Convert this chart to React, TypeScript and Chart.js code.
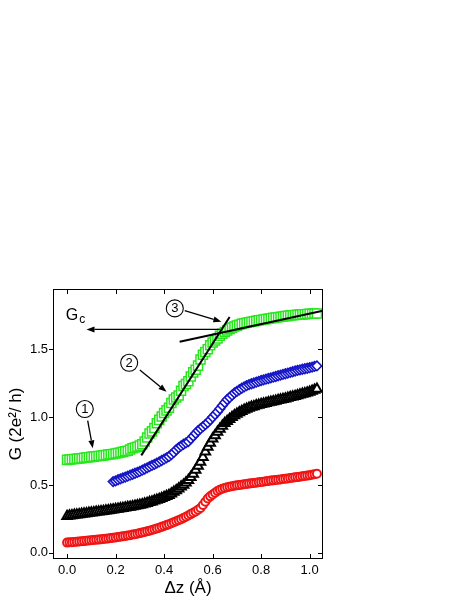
import React, { useEffect, useRef } from "react";
import { Chart, registerables } from "chart.js";

Chart.register(...registerables);

// Δz (Å) sample positions shared by the series
const dz = [
  0.0, 0.01, 0.02, 0.03, 0.04, 0.05, 0.06, 0.07, 0.08, 0.09,
  0.1, 0.11, 0.12, 0.13, 0.14, 0.15, 0.16, 0.17, 0.18, 0.19,
  0.2, 0.21, 0.22, 0.23, 0.24, 0.25, 0.26, 0.27, 0.28, 0.29,
  0.3, 0.31, 0.32, 0.33, 0.34, 0.35, 0.36, 0.37, 0.38, 0.39,
  0.4, 0.41, 0.42, 0.43, 0.44, 0.45, 0.46, 0.47, 0.48, 0.49,
  0.5, 0.51, 0.52, 0.53, 0.54, 0.55, 0.56, 0.57, 0.58, 0.59,
  0.6, 0.61, 0.62, 0.63, 0.64, 0.65, 0.66, 0.67, 0.68, 0.69,
  0.7, 0.71, 0.72, 0.73, 0.74, 0.75, 0.76, 0.77, 0.78, 0.79,
  0.8, 0.81, 0.82, 0.83, 0.84, 0.85, 0.86, 0.87, 0.88, 0.89,
  0.9, 0.91, 0.92, 0.93, 0.94, 0.95, 0.96, 0.97, 0.98, 0.99,
  1.0, 1.01, 1.02, 1.03,
];

const gGreen = [
  0.685, 0.687, 0.689, 0.691, 0.693, 0.695, 0.697, 0.700, 0.702, 0.705,
  0.707, 0.709, 0.711, 0.714, 0.716, 0.718, 0.721, 0.724, 0.726, 0.729,
  0.732, 0.736, 0.740, 0.744, 0.748, 0.752, 0.762, 0.770, 0.776, 0.782,
  0.790, 0.800, 0.820, 0.850, 0.880, 0.895, 0.920, 0.955, 0.980, 1.005,
  1.030, 1.050, 1.070, 1.105, 1.130, 1.145, 1.160, 1.195, 1.230, 1.245,
  1.265, 1.300, 1.330, 1.350, 1.380, 1.425, 1.460, 1.480, 1.500, 1.530,
  1.550, 1.565, 1.580, 1.600, 1.615, 1.628, 1.640, 1.650, 1.660, 1.668,
  1.675, 1.682, 1.688, 1.692, 1.696, 1.700, 1.704, 1.707, 1.710, 1.714,
  1.717, 1.720, 1.723, 1.726, 1.729, 1.732, 1.735, 1.737, 1.740, 1.742,
  1.745, 1.747, 1.749, 1.751, 1.753, 1.755, 1.756, 1.758, 1.759, 1.760,
  1.762, 1.763, 1.764, 1.765,
];

// blue starts at Δz = 0.19 (dz index 19)
const blueStart = 19;
const gBlue = [
  0.525,
  0.530, 0.538, 0.545, 0.552, 0.558, 0.565, 0.572, 0.579, 0.586, 0.593,
  0.600, 0.609, 0.618, 0.626, 0.635, 0.644, 0.652, 0.661, 0.670, 0.680,
  0.690, 0.700, 0.710, 0.725, 0.740, 0.760, 0.775, 0.788, 0.800, 0.810,
  0.820, 0.840, 0.860, 0.880, 0.900, 0.915, 0.930, 0.945, 0.960, 0.980,
  1.000, 1.020, 1.040, 1.062, 1.085, 1.108, 1.130, 1.145, 1.162, 1.178,
  1.190, 1.202, 1.213, 1.223, 1.232, 1.240, 1.246, 1.252, 1.258, 1.264,
  1.270, 1.275, 1.280, 1.285, 1.290, 1.295, 1.300, 1.305, 1.310, 1.315,
  1.320, 1.325, 1.330, 1.335, 1.340, 1.345, 1.349, 1.353, 1.357, 1.361,
  1.365, 1.369, 1.374, 1.378,
];

const gBlack = [
  0.270, 0.273, 0.275, 0.278, 0.280, 0.283, 0.285, 0.288, 0.290, 0.293,
  0.295, 0.297, 0.300, 0.302, 0.305, 0.307, 0.310, 0.312, 0.315, 0.317,
  0.320, 0.323, 0.326, 0.329, 0.332, 0.335, 0.338, 0.341, 0.345, 0.348,
  0.352, 0.356, 0.361, 0.366, 0.372, 0.377, 0.383, 0.389, 0.395, 0.402,
  0.409, 0.417, 0.425, 0.436, 0.448, 0.460, 0.472, 0.486, 0.500, 0.517,
  0.535, 0.557, 0.580, 0.610, 0.640, 0.670, 0.705, 0.745, 0.780, 0.810,
  0.840, 0.865, 0.890, 0.912, 0.935, 0.955, 0.970, 0.985, 1.000, 1.012,
  1.024, 1.035, 1.044, 1.052, 1.060, 1.068, 1.074, 1.079, 1.085, 1.090,
  1.095, 1.099, 1.103, 1.108, 1.112, 1.116, 1.120, 1.124, 1.128, 1.132,
  1.136, 1.141, 1.146, 1.150, 1.155, 1.160, 1.165, 1.170, 1.175, 1.180,
  1.185, 1.192, 1.200, 1.208,
];

const gRed = [
  0.075, 0.077, 0.078, 0.080, 0.081, 0.083, 0.085, 0.086, 0.088, 0.090,
  0.092, 0.094, 0.096, 0.097, 0.099, 0.101, 0.103, 0.106, 0.108, 0.111,
  0.113, 0.116, 0.118, 0.121, 0.124, 0.127, 0.130, 0.134, 0.137, 0.141,
  0.145, 0.149, 0.154, 0.158, 0.163, 0.168, 0.173, 0.179, 0.185, 0.191,
  0.197, 0.204, 0.211, 0.218, 0.225, 0.232, 0.240, 0.248, 0.257, 0.266,
  0.275, 0.285, 0.295, 0.305, 0.317, 0.330, 0.352, 0.376, 0.400, 0.416,
  0.430, 0.443, 0.455, 0.464, 0.472, 0.478, 0.483, 0.487, 0.491, 0.494,
  0.497, 0.500, 0.502, 0.505, 0.507, 0.510, 0.512, 0.515, 0.517, 0.520,
  0.522, 0.524, 0.527, 0.529, 0.532, 0.534, 0.536, 0.539, 0.541, 0.544,
  0.546, 0.548, 0.551, 0.553, 0.556, 0.558, 0.561, 0.564, 0.566, 0.569,
  0.572, 0.576, 0.579, 0.583,
];

const xTicks = [0.0, 0.2, 0.4, 0.6, 0.8, 1.0];
const yTicks = [0.0, 0.5, 1.0, 1.5];

// fitted straight lines (data coordinates)
const fitSteepX = [0.306, 0.67];
const fitSteepY = [0.718, 1.738];
const fitFlatX = [0.464, 1.055];
const fitFlatY = [1.556, 1.785];

// annotation arrows: [x0, y0, x1(tip), y1(tip)]
const gcArrow = [0.629, 1.647, 0.08, 1.647];
const arrowOne = [0.085, 0.975, 0.106, 0.77];
const arrowTwo = [0.3, 1.347, 0.41, 1.187];
const arrowThree = [0.485, 1.785, 0.636, 1.704];

// circled step labels
const stepLabels = ["1", "2", "3"];
const stepX = [0.073, 0.256, 0.444];
const stepY = [1.06, 1.401, 1.802];

// G_c label anchor (left, baseline)
const gcX = -0.005;
const gcY = 1.72;

const FONT = "'Liberation Sans', Arial, Helvetica, sans-serif";

const overlay = {
  id: "overlay",
  afterDatasetsDraw(chart: any) {
    const { ctx, chartArea: a, scales } = chart;
    const xs = scales.x;
    const ys = scales.y;
    const px = (v: number) => xs.getPixelForValue(v);
    const py = (v: number) => ys.getPixelForValue(v);
    ctx.save();
    ctx.strokeStyle = "#000";
    ctx.fillStyle = "#000";

    const arrow = (d: number[]) => {
      const x0 = px(d[0]), y0 = py(d[1]), x1 = px(d[2]), y1 = py(d[3]);
      const ang = Math.atan2(y1 - y0, x1 - x0);
      const hl = 8, hw = 3;
      const bx = x1 - Math.cos(ang) * hl, by = y1 - Math.sin(ang) * hl;
      ctx.lineWidth = 1.3;
      ctx.beginPath();
      ctx.moveTo(x0, y0);
      ctx.lineTo(bx, by);
      ctx.stroke();
      ctx.beginPath();
      ctx.moveTo(x1, y1);
      ctx.lineTo(bx + Math.sin(ang) * hw, by - Math.cos(ang) * hw);
      ctx.lineTo(bx - Math.sin(ang) * hw, by + Math.cos(ang) * hw);
      ctx.closePath();
      ctx.fill();
    };
    [gcArrow, arrowOne, arrowTwo, arrowThree].forEach(arrow);

    // circled numbers
    ctx.textAlign = "center";
    ctx.textBaseline = "middle";
    ctx.font = `13px ${FONT}`;
    stepLabels.forEach((t, i) => {
      const cx = px(stepX[i]), cy = py(stepY[i]);
      ctx.fillStyle = "#fff";
      ctx.beginPath();
      ctx.arc(cx, cy, 8.5, 0, Math.PI * 2);
      ctx.fill();
      ctx.lineWidth = 1.1;
      ctx.stroke();
      ctx.fillStyle = "#000";
      ctx.fillText(t, cx, cy + 0.5);
    });

    // G_c
    ctx.textAlign = "left";
    ctx.textBaseline = "alphabetic";
    ctx.font = `16px ${FONT}`;
    const gx = px(gcX), gy = py(gcY);
    ctx.fillText("G", gx, gy);
    const w = ctx.measureText("G").width;
    ctx.font = `12px ${FONT}`;
    ctx.fillText("c", gx + w + 1, gy + 3);

    // frame and ticks
    ctx.lineWidth = 1;
    ctx.strokeRect(a.left + 0.5, a.top + 0.5, a.right - a.left - 1, a.bottom - a.top - 1);
    ctx.beginPath();
    yTicks.forEach((v) => {
      const y = Math.round(py(v)) + 0.5;
      ctx.moveTo(a.left - 4, y);
      ctx.lineTo(a.left, y);
      ctx.moveTo(a.right - 5, y);
      ctx.lineTo(a.right, y);
    });
    xTicks.forEach((v) => {
      const x = Math.round(px(v)) + 0.5;
      ctx.moveTo(x, a.bottom);
      ctx.lineTo(x, a.bottom - 5);
      ctx.moveTo(x, a.top);
      ctx.lineTo(x, a.top + 5);
    });
    ctx.stroke();
    ctx.restore();
  },
};

function series(xv: number[], yv: number[]) {
  return yv.map((v, i) => ({ x: xv[i], y: v }));
}

export default function App() {
  const ref = useRef<HTMLCanvasElement>(null);

  useEffect(() => {
    if (!ref.current) return;
    const green = "rgb(40,230,30)";
    const blue = "rgb(20,20,200)";
    const red = "rgb(240,20,20)";
    const chart = new Chart(ref.current, {
      type: "scatter",
      data: {
        datasets: [
          {
            data: series(fitSteepX, fitSteepY),
            showLine: true,
            borderColor: "#000",
            borderWidth: 2,
            pointRadius: 0,
          },
          {
            data: series(fitFlatX, fitFlatY),
            showLine: true,
            borderColor: "#000",
            borderWidth: 2,
            pointRadius: 0,
          },
          {
            data: series(dz, gGreen),
            pointStyle: "rect",
            pointRadius: 6.4,
            borderColor: green,
            backgroundColor: "#fff",
            borderWidth: 1.5,
          },
          {
            data: series(dz.slice(blueStart), gBlue),
            pointStyle: "rectRot",
            pointRadius: 4.8,
            borderColor: blue,
            backgroundColor: "#fff",
            borderWidth: 1.6,
          },
          {
            data: series(dz, gBlack),
            pointStyle: "triangle",
            pointRadius: 5.5,
            borderColor: "#000",
            backgroundColor: "#fff",
            borderWidth: 2,
          },
          {
            data: series(dz, gRed),
            pointStyle: "circle",
            pointRadius: 4,
            borderColor: red,
            backgroundColor: "#fff",
            borderWidth: 2,
          },
        ],
      },
      options: {
        animation: false,
        responsive: false,
        events: [],
        layout: { padding: { left: 0, top: 289, right: 140, bottom: 0 } },
        plugins: { legend: { display: false }, tooltip: { enabled: false } },
        scales: {
          x: {
            type: "linear",
            min: -0.058,
            max: 1.055,
            grid: { display: false, drawTicks: false },
            border: { display: false },
            afterFit: (s: any) => {
              s.height = 40;
            },
            ticks: {
              stepSize: 0.2,
              includeBounds: false,
              padding: 4,
              color: "#000",
              font: { family: FONT, size: 13 },
              callback: (v: any) => Number(v).toFixed(1),
            },
            title: {
              display: true,
              text: "Δz (Å)",
              color: "#000",
              padding: { top: 0, bottom: 0 },
              font: { family: FONT, size: 17 },
            },
          },
          y: {
            type: "linear",
            min: -0.046,
            max: 1.945,
            grid: { display: false, drawTicks: false },
            border: { display: false },
            afterFit: (s: any) => {
              s.width = 53;
            },
            ticks: {
              stepSize: 0.5,
              includeBounds: false,
              padding: 5,
              color: "#000",
              font: { family: FONT, size: 13 },
              callback: (v: any) => Number(v).toFixed(1),
            },
            title: {
              display: true,
              text: "G (2e²/ h)",
              color: "#000",
              padding: { top: 6, bottom: 0 },
              font: { family: FONT, size: 17 },
            },
          },
        },
      },
      plugins: [overlay],
    });
    return () => chart.destroy();
  }, []);

  return (
    <div style={{ position: "absolute", left: 0, top: 0, width: 463, height: 599, background: "#fff" }}>
      <canvas ref={ref} width={463} height={599} style={{ width: 463, height: 599, display: "block" }} />
    </div>
  );
}
